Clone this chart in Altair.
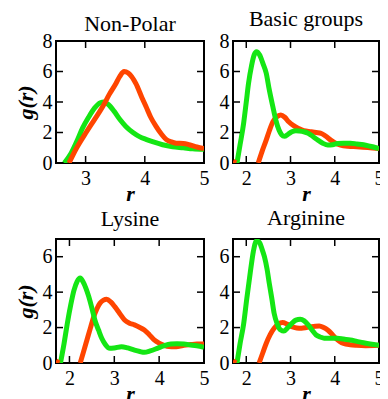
import altair as alt
import pandas as pd

FONT = "Liberation Serif, Times New Roman, serif"
GREEN = "#14e614"
RED = "#ff4500"

# ---------------- data ----------------
# Non-Polar
np_green_r = [2.64, 2.75, 2.85, 2.95, 3.05, 3.15, 3.25, 3.31, 3.38, 3.48, 3.58, 3.68, 3.8, 3.91, 4.02, 4.13, 4.3, 4.47, 4.65, 4.81, 5.0]
np_green_g = [0, 0.6, 1.4, 2.3, 3.0, 3.6, 3.95, 4.0, 3.85, 3.4, 2.85, 2.4, 2.0, 1.73, 1.55, 1.4, 1.2, 1.07, 1.0, 0.93, 0.9]
np_red_r = [2.72, 2.85, 3.0, 3.15, 3.29, 3.4, 3.51, 3.58, 3.65, 3.72, 3.85, 3.95, 4.02, 4.1, 4.19, 4.28, 4.36, 4.45, 4.53, 4.65, 4.75, 4.88, 5.0]
np_red_g = [0, 1.0, 1.95, 2.85, 3.7, 4.5, 5.2, 5.7, 6.0, 5.9, 5.2, 4.3, 3.7, 3.0, 2.4, 1.9, 1.55, 1.38, 1.3, 1.28, 1.2, 1.05, 0.95]

# Basic groups
bg_green_r = [1.79, 1.86, 1.94, 2.0, 2.05, 2.12, 2.18, 2.23, 2.3, 2.38, 2.45, 2.52, 2.6, 2.67, 2.74, 2.8, 2.86, 2.95, 3.03, 3.12, 3.2, 3.3, 3.4, 3.5, 3.62, 3.73, 3.84, 3.95, 4.06, 4.2, 4.35, 4.5, 4.65, 4.8, 5.0]
bg_green_g = [0, 1.2, 2.6, 4.0, 5.2, 6.4, 7.1, 7.3, 7.1, 6.5, 5.9, 4.8, 3.7, 2.8, 2.16, 1.85, 1.75, 1.9, 2.05, 2.12, 2.1, 2.05, 1.95, 1.75, 1.5, 1.3, 1.18, 1.2, 1.28, 1.3, 1.3, 1.25, 1.2, 1.1, 0.95]
bg_red_r = [2.27, 2.35, 2.45, 2.52, 2.6, 2.68, 2.78, 2.87, 2.96, 3.07, 3.18, 3.3, 3.47, 3.58, 3.69, 3.8, 3.91, 4.02, 4.13, 4.3, 4.5, 4.75, 5.0]
bg_red_g = [0, 0.7, 1.5, 2.1, 2.7, 3.0, 3.15, 3.0, 2.7, 2.45, 2.27, 2.12, 2.05, 2.0, 1.95, 1.75, 1.5, 1.3, 1.18, 1.1, 1.07, 1.02, 0.95]

# Lysine
ly_green_r = [1.8, 1.88, 1.95, 2.03, 2.1, 2.17, 2.24, 2.3, 2.37, 2.43, 2.5, 2.57, 2.65, 2.72, 2.8, 2.9, 3.0, 3.16, 3.3, 3.45, 3.57, 3.67, 3.8, 3.96, 4.1, 4.26, 4.4, 4.55, 4.7, 4.84, 5.0]
ly_green_g = [0, 1.1, 2.2, 3.3, 4.1, 4.6, 4.8, 4.6, 4.2, 3.75, 3.1, 2.4, 1.85, 1.4, 1.05, 0.83, 0.85, 0.92, 0.85, 0.73, 0.65, 0.6, 0.68, 0.83, 0.97, 1.07, 1.08, 1.07, 1.02, 0.97, 0.88]
ly_red_r = [2.24, 2.31, 2.39, 2.47, 2.54, 2.61, 2.68, 2.76, 2.83, 2.92, 3.01, 3.12, 3.23, 3.34, 3.45, 3.56, 3.67, 3.78, 3.89, 4.0, 4.11, 4.22, 4.33, 4.45, 4.55, 4.7, 4.84, 5.0]
ly_red_g = [0, 0.6, 1.3, 2.0, 2.6, 3.05, 3.37, 3.55, 3.6, 3.45, 3.18, 2.8, 2.43, 2.25, 2.15, 2.02, 1.86, 1.6, 1.3, 1.12, 1.0, 0.93, 0.92, 0.95, 1.0, 1.04, 1.07, 1.07]

# Arginine
ar_green_r = [1.79, 1.86, 1.94, 2.01, 2.09, 2.16, 2.23, 2.3, 2.36, 2.41, 2.47, 2.52, 2.58, 2.63, 2.7, 2.78, 2.85, 2.94, 3.03, 3.12, 3.22, 3.31, 3.4, 3.49, 3.58, 3.67, 3.76, 3.9, 4.06, 4.2, 4.35, 4.5, 4.65, 4.8, 5.0]
ar_green_g = [0, 1.1, 2.2, 3.6, 5.1, 6.3, 6.9, 6.8, 6.4, 6.0, 5.3, 4.5, 3.6, 2.8, 2.2, 1.86, 1.8, 2.0, 2.24, 2.42, 2.47, 2.38, 2.15, 1.85, 1.58, 1.47, 1.4, 1.4, 1.4, 1.35, 1.3, 1.22, 1.14, 1.07, 1.0]
ar_red_r = [2.29, 2.37, 2.45, 2.54, 2.63, 2.72, 2.82, 2.92, 3.03, 3.14, 3.25, 3.36, 3.47, 3.56, 3.65, 3.75, 3.84, 3.93, 4.02, 4.11, 4.2, 4.35, 4.49, 4.7, 5.0]
ar_red_g = [0, 0.55, 1.1, 1.6, 1.96, 2.18, 2.28, 2.2, 2.05, 1.98, 1.96, 2.0, 2.05, 2.08, 2.09, 2.0, 1.86, 1.65, 1.4, 1.22, 1.1, 1.03, 1.0, 0.98, 1.0]

# small red stub at the left edge of the lower-r panels
stub_r = [1.7, 1.77]
stub_g = [0.12, 0.0]

# axes / ticks
titles = ["Non-Polar", "Basic groups", "Lysine", "Arginine"]
x_labels_np = [3, 4, 5]
x_labels = [2, 3, 4, 5]
x_ticks_np = [3, 4]
x_ticks = [2, 3, 4]
y_labels_top = [0, 2, 4, 6, 8]
y_labels_bot = [0, 2, 4, 6]
y_ticks = [2, 4, 6]


def panel(title, toff, gr, gg, rr, rg, stub, xdom, ydom, xlab, ylab, xtk, ytk,
          w, h, ytitle, red_on_top):
    xs = alt.Scale(domain=xdom, nice=False, zero=False)
    ys = alt.Scale(domain=ydom, nice=False, zero=False)
    common = dict(ticks=False, domain=False, grid=False, labelFont=FONT,
                  labelFontSize=20, labelColor="black", labelFlush=False,
                  labelOverlap=False, titleFont=FONT, titleFontSize=22,
                  titleFontStyle="italic", titleFontWeight="bold", titleColor="black")
    xaxis = alt.Axis(values=xlab, title="r", labelPadding=5, titlePadding=-5, **common)
    ykw = dict(values=ylab, labelPadding=4, **common)
    if ytitle:
        ykw["title"] = "g(r)"
        ykw["titlePadding"] = 5
    else:
        ykw["title"] = ""
    yaxis = alt.Axis(**ykw)

    X = alt.X("r:Q", scale=xs, axis=xaxis)
    Y = alt.Y("g:Q", scale=ys, axis=yaxis)

    gdf = pd.DataFrame({"r": gr, "g": gg})
    rdf = pd.DataFrame({"r": rr, "g": rg})

    def line(df, col):
        return alt.Chart(df).mark_line(clip=True, strokeWidth=5, color=col,
                                       interpolate="monotone").encode(
            x=X, y=Y, order="r:Q")

    layers = []
    if red_on_top:
        layers += [line(gdf, GREEN), line(rdf, RED)]
    else:
        layers += [line(rdf, RED), line(gdf, GREEN)]
    if stub:
        layers.append(line(pd.DataFrame({"r": stub_r, "g": stub_g}), RED))

    xt = pd.DataFrame({"r": xtk})
    yt = pd.DataFrame({"g": ytk})
    tk = dict(color="black", strokeWidth=1.5)
    layers.append(alt.Chart(xt).mark_rule(**tk).encode(
        x=X, y=alt.value(h), y2=alt.value(h - 7)))
    layers.append(alt.Chart(xt).mark_rule(**tk).encode(
        x=X, y=alt.value(0), y2=alt.value(7)))
    layers.append(alt.Chart(yt).mark_rule(**tk).encode(
        y=Y, x=alt.value(0), x2=alt.value(7)))
    layers.append(alt.Chart(yt).mark_rule(**tk).encode(
        y=Y, x=alt.value(w - 7), x2=alt.value(w)))

    return alt.layer(*layers).properties(
        width=w, height=h,
        title=alt.TitleParams(text=title, font=FONT, fontSize=22, fontWeight="normal",
                              color="black", anchor="middle", offset=toff))


p1 = panel(titles[0], -5, np_green_r, np_green_g, np_red_r, np_red_g, False,
           [2.5, 5], [0, 8], x_labels_np, y_labels_top, x_ticks_np, y_ticks, 148, 122, True, True)
p2 = panel(titles[1], 0, bg_green_r, bg_green_g, bg_red_r, bg_red_g, True,
           [1.7, 5], [0, 8], x_labels, y_labels_top, x_ticks, y_ticks, 146, 122, False, False)
p3 = panel(titles[2], 7, ly_green_r, ly_green_g, ly_red_r, ly_red_g, True,
           [1.7, 5], [0, 7], x_labels, y_labels_bot, x_ticks, y_ticks, 148, 124, True, False)
p4 = panel(titles[3], 8, ar_green_r, ar_green_g, ar_red_r, ar_red_g, True,
           [1.7, 5], [0, 7], x_labels, y_labels_bot, x_ticks, y_ticks, 146, 124, False, False)

chart = alt.concat(p1, p2, p3, p4, columns=2,
                   spacing={"row": 76, "column": 29}, bounds="flush").properties(
    autosize=alt.AutoSizeParams(type="none"),
    padding={"left": 48, "top": 33, "right": 324, "bottom": 370},
    background="white",
).configure_view(stroke="black", strokeWidth=2).configure_axis(
    labelFont=FONT, titleFont=FONT, labelFontSize=20, titleFontSize=22,
    labelColor="black", titleColor="black",
).configure_title(font=FONT)

chart.save("out.html", embed_options={"renderer": "svg", "actions": False})
